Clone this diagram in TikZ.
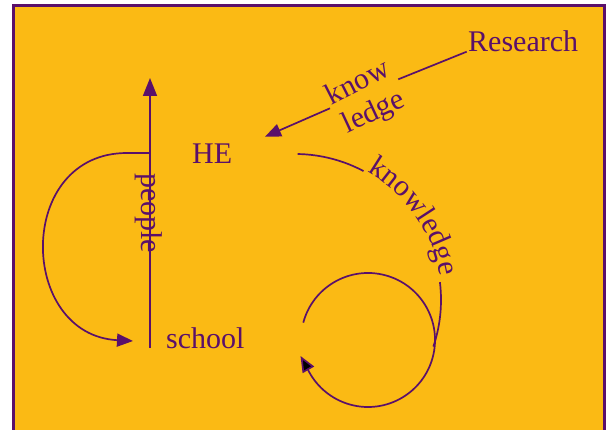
\documentclass[tikz,border=0pt]{standalone}
\usepackage{fontspec}
\setmainfont{Liberation Serif}
\usetikzlibrary{arrows.meta,decorations.text}
\definecolor{gold}{RGB}{251,186,20}
\definecolor{purp}{RGB}{90,16,106}
\newcommand{\lblfont}{\fontsize{30}{36}\selectfont}
\begin{document}
\begin{tikzpicture}[x=1pt,y=1pt,
  lbl/.style={text=purp, font=\lblfont, inner sep=0pt},
  conn/.style={draw=purp, line width=1.7pt},
  tip/.style={-{Triangle[length=16pt,width=13pt]}},
  tipbig/.style={-{Triangle[length=18pt,width=14pt]}}]
\useasboundingbox (0,0) rectangle (610,430);
\fill[white] (0,0) rectangle (610,430);
\draw[purp, line width=3pt, fill=gold] (13.5,-10) rectangle (604,424.5);

% nodes
\node[lbl, anchor=base west] (research) at (468,378) {Research};
\node[lbl, anchor=base west] (he) at (192,266.5) {HE};
\node[lbl, anchor=base west] (school) at (166,81) {school};
\node[lbl, anchor=base, rotate=-90] (people) at (141,217) {people};
\node[lbl, rotate=27] (know) at (357,349) {know};
\node[lbl, rotate=25] (ledge) at (374,317) {ledge};

% Research -> HE
\coordinate (r1) at (466.7,378.3);
\coordinate (r2) at (398.3,350.7);
\coordinate (r3) at (330,321.7);
\coordinate (heIn) at (265,293.3);
\draw[conn] (r1) -- (r2);
\draw[conn, tip] (r3) -- (heIn);

% people arrow
\coordinate (pBot) at (150,82);
\coordinate (pTop) at (150,352);
\draw[conn, tipbig] (pBot) -- (pTop);

% left loop
\coordinate (lA) at (150,277);
\coordinate (lB) at (127,277);
\coordinate (lEnd) at (133,89);
\draw[conn, tip] (lA) -- (lB) .. controls (15,277) and (18,95) .. (lEnd);

% knowledge arc
\coordinate (kc) at (295,130);
\draw[conn] (kc) ++(89:146) arc[start angle=89, end angle=62, radius=146];
\path[decorate, decoration={text along path, text={|\lblfont|knowledge}, text color=purp, text align=center}]
  (kc) ++(64:147) arc[start angle=64, end angle=6, radius=147];
\draw[conn] (kc) ++(7:146) arc[start angle=7, end angle=-18.6, radius=146];

% small loop
\coordinate (cc) at (368,90);
\coordinate (cTip) at (300.5,74);
\draw[conn, tip] (cc) ++(165:67) arc[start angle=165, end angle=-157, radius=67] -- (cTip);
\end{tikzpicture}
\end{document}
